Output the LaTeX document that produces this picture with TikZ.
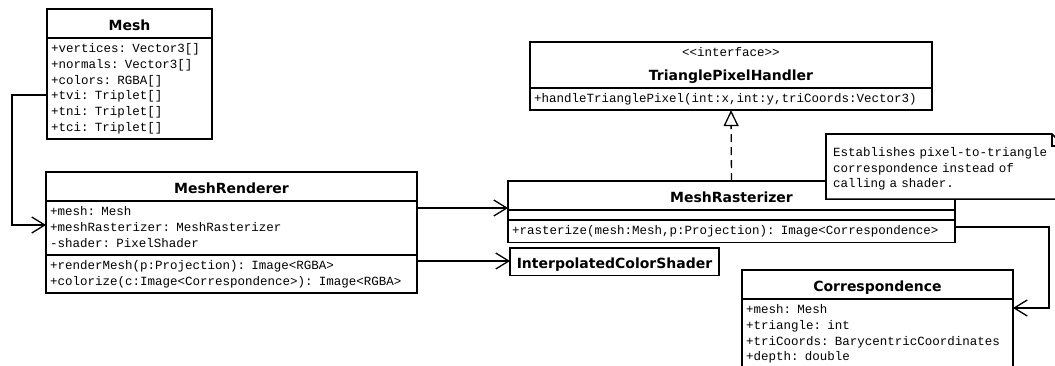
\documentclass[tikz,border=0pt]{standalone}
\usepackage{fontspec}
\setmonofont{Liberation Mono}
\newfontfamily\classfont{DejaVu Sans}
\usetikzlibrary{positioning,calc,shapes.multipart,arrows.meta}

\newcommand\rowstrut{\rule[-4.3pt]{0pt}{15.7pt}}
\newcommand\namestrut{\rule[-4.2pt]{0pt}{22.5pt}}
\newcommand\ctrline[1]{\makebox[\hsize]{#1}}
\newcommand\cname[1]{\ctrline{\namestrut\classfont\bfseries\fontsize{14}{17}\selectfont #1}}

\begin{document}
\begin{tikzpicture}[x=1pt,y=-1pt]
    \tikzset{
        umlbox/.style={draw, line width=1.6pt, fill=white, outer sep=0pt, inner xsep=4pt, inner ysep=2.5pt,
            anchor=north west, font=\ttfamily\fontsize{12.5}{15.7}\selectfont},
        umlclass/.style={umlbox, rectangle split, rectangle split parts=3},
        assoc/.style={line width=1.3pt, -{Straight Barb[length=13pt,width=16pt]}},
        realize/.style={line width=1.3pt, dash pattern=on 8pt off 5pt, -{Triangle[open,length=16pt,width=15pt]}},}
    \useasboundingbox (0,0) rectangle (1055,365);
    \clip (0,0) rectangle (1055,365);
    \fill [white] (0,0) rectangle (1055,365);
    % classes
    \node (mesh) [umlclass, rectangle split parts=2, text width=157pt] at (47,9)
        {\cname{Mesh}
        \nodepart{two}\rowstrut+vertices: Vector3[]\\ \rowstrut+normals: Vector3[]\\ \rowstrut+colors: RGBA[]\\
        \rowstrut+tvi: Triplet[]\\ \rowstrut+tni: Triplet[]\\ \rowstrut+tci: Triplet[]};
    \node (renderer) [umlclass, text width=363pt] at (46,172)
        {\cname{MeshRenderer}
        \nodepart{two}\rowstrut+mesh: Mesh\\ \rowstrut+meshRasterizer: MeshRasterizer\\ \rowstrut-shader: PixelShader
        \nodepart{three}\rowstrut+renderMesh(p:Projection): Image<RGBA>\\
        \rowstrut+colorize(c:Image<Correspondence>): Image<RGBA>};
    \node (handler) [umlclass, rectangle split parts=2, text width=394pt] at (530,42)
        {\ctrline{\rowstrut<<interface>>}\\ \cname{TrianglePixelHandler}
        \nodepart{two}\rowstrut+handleTrianglePixel(int:x,int:y,triCoords:Vector3)};
    \node (rasterizer) [umlclass, text width=439pt] at (508,181)
        {\cname{MeshRasterizer}
        \nodepart{two}\rule{0pt}{3.5pt}
        \nodepart{three}\rowstrut+rasterize(mesh:Mesh,p:Projection): Image<Correspondence>};
    \node (shader) [umlbox, text width=201pt] at (510,248) {\cname{InterpolatedColorShader}};
    \node (corresp) [umlclass, rectangle split parts=2, text width=263pt] at (742,270)
        {\cname{Correspondence}
        \nodepart{two}\rowstrut+mesh: Mesh\\ \rowstrut+triangle: int\\
        \rowstrut+triCoords: BarycentricCoordinates\\ \rowstrut+depth: double};
    % note
    \node (note) [anchor=north west, fill=white, outer sep=0pt, inner xsep=7pt, inner ysep=7pt, text width=224pt, align=left,
        font=\ttfamily\fontsize{12.5}{15.7}\selectfont] at (826,134)
        {\rule[-4.3pt]{0pt}{19.7pt}Establishes pixel-to-triangle\\ \rowstrut correspondence instead of\\ \rowstrut calling a shader.};
    \draw [line width=1.6pt] (note.north west) -- ($(note.north east)+(-12,0)$) -- ($(note.north east)+(0,12)$)
        -- (note.south east) -- (note.south west) -- cycle;
    \draw [line width=1.6pt] ($(note.north east)+(-12,0)$) |- ($(note.north east)+(0,12)$);
    % connectors
    \draw [assoc] (mesh.west |- 0,95) -- ++(-35,0) |- (renderer.west |- 0,225);
    \draw [assoc] (renderer.east |- 0,208) -- (rasterizer.west |- 0,208);
    \draw [assoc] (renderer.east |- 0,261) -- (shader.west |- 0,261);
    \draw [realize] (rasterizer.north) -- (handler.south);
    \draw [assoc] (rasterizer.east |- 0,227) -- ++(94,0) |- (corresp.east |- 0,308);
\end{tikzpicture}
\end{document}
